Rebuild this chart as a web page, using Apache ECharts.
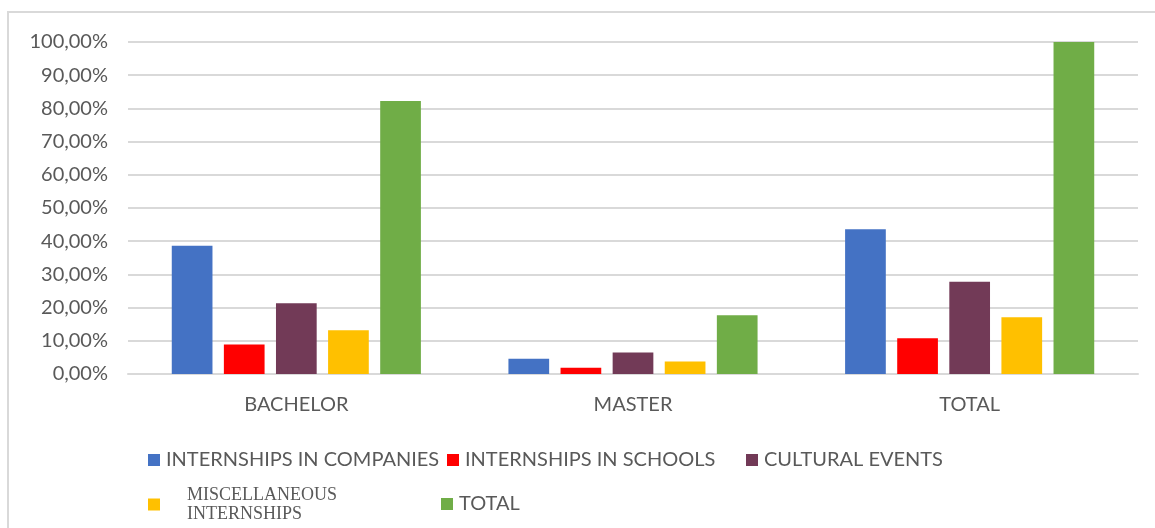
<!DOCTYPE html>
<html>
<head>
<meta charset="utf-8">
<script src="https://cdn.jsdelivr.net/npm/echarts@6/dist/echarts.min.js"></script>
<style>html,body{margin:0;padding:0;background:#fff;}#c{width:1155px;height:528px;}</style>
</head>
<body>
<div id="c"></div>
<script>
const categories = ['BACHELOR', 'MASTER', 'TOTAL'];
const seriesNames = ['INTERNSHIPS IN COMPANIES', 'INTERNSHIPS IN SCHOOLS', 'CULTURAL EVENTS', 'MISCELLANEOUS INTERNSHIPS', 'TOTAL'];
const companies = [38.6, 4.6, 43.6];
const schools = [8.9, 1.9, 10.8];
const cultural = [21.3, 6.5, 27.8];
const misc = [13.2, 3.8, 17.1];
const total = [82.2, 17.7, 100];
const colors = ['#4472C4', '#FF0000', '#723A57', '#FFC000', '#70AD47'];
const seriesData = [companies, schools, cultural, misc, total];

const FONT = 'Lato';
const TXT = '#595959';
const chart = echarts.init(document.getElementById('c'), null, {renderer: 'canvas'});

const legendPos = [
  {left: 148, top: 450},
  {left: 447, top: 450},
  {left: 746, top: 450},
  {left: 148, top: 486},
  {left: 441, top: 494}
];
const legends = seriesNames.map((n, i) => {
  const l = {
    data: [n], left: legendPos[i].left, top: legendPos[i].top,
    icon: 'rect', itemWidth: 12, itemHeight: 12, itemGap: 0, padding: 0,
    textStyle: {fontFamily: FONT, fontSize: 20, color: TXT, padding: [0, 0, 0, 1]}
  };
  if (i === 3) {
    l.formatter = () => '{m|MISCELLANEOUS\nINTERNSHIPS}';
    l.textStyle = {rich: {m: {fontFamily: 'Liberation Serif', fontSize: 18, color: TXT, lineHeight: 19, padding: [0, 0, 0, 22]}}};
  }
  return l;
});

chart.setOption({
  backgroundColor: '#fff',
  animation: false,
  graphic: [{type: 'rect', shape: {x: 8, y: 12, width: 1160, height: 530}, style: {fill: 'none', stroke: '#d9d9d9', lineWidth: 2}}],
  grid: {left: 128, right: 17, top: 42, bottom: 154},
  legend: legends,
  xAxis: {
    type: 'category', data: categories,
    axisLine: {lineStyle: {color: '#d9d9d9', width: 2}},
    axisTick: {show: false},
    axisLabel: {fontFamily: FONT, fontSize: 20, color: TXT, margin: 21}
  },
  yAxis: {
    type: 'value', min: 0, max: 100, interval: 10,
    axisLine: {show: false}, axisTick: {show: false},
    splitLine: {lineStyle: {color: '#d9d9d9', width: 2}},
    axisLabel: {fontFamily: FONT, fontSize: 20, color: TXT, margin: 20,
      formatter: v => v.toFixed(2).replace('.', ',') + '%'}
  },
  series: seriesNames.map((n, i) => ({
    name: n, type: 'bar', data: seriesData[i],
    barGap: '28%', barCategoryGap: '26%',
    itemStyle: {color: colors[i]}
  }))
});
</script>
</body>
</html>
